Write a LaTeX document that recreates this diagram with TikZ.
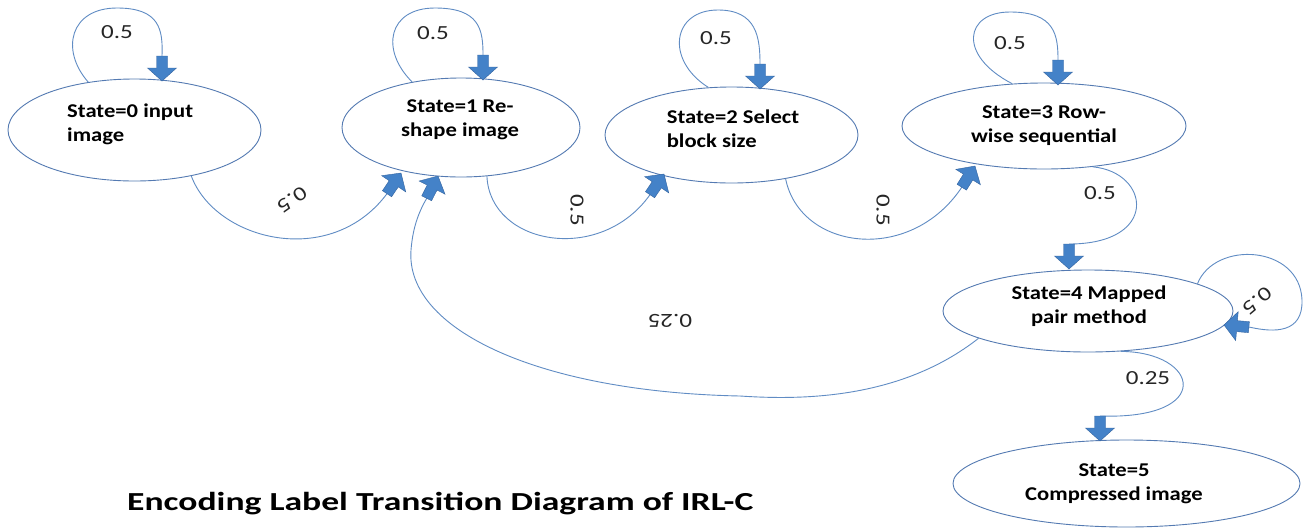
\documentclass[tikz,border=0pt]{standalone}
\usepackage{fontspec}
\setmainfont{Carlito}
\newfontfamily\nodefont[FakeStretch=1.16]{Carlito}
\newfontfamily\probfont[FakeStretch=1.25]{Carlito}
\newfontfamily\titlefont[FakeStretch=1.37]{Carlito}
\usetikzlibrary{shapes.geometric}
\definecolor{edgeblue}{RGB}{96,140,196}
\definecolor{nodeline}{RGB}{84,122,178}
\definecolor{arrowfill}{RGB}{68,130,200}
\definecolor{arrowline}{RGB}{52,100,160}
\tikzset{
  state/.style={ellipse, draw=nodeline, line width=0.9pt, inner sep=0pt},
  statetext/.style={font=\nodefont\fontsize{19.5}{24}\selectfont\bfseries, text=black, inner sep=0pt},
  link/.style={draw=edgeblue, line width=0.9pt},
  prob/.style={font=\probfont\fontsize{20}{22}\selectfont, text=black!85, inner sep=0pt},
  titletext/.style={font=\titlefont\fontsize{26}{30}\selectfont\bfseries, text=black, inner sep=0pt, anchor=base west},
  fatarrow/.pic={\filldraw[fill=arrowfill, draw=arrowline, line width=0.4pt] (0,0) -- (-13,14.5) -- (-13,5.5) -- (-25,5.5) -- (-25,-5.5) -- (-13,-5.5) -- (-13,-14.5) -- cycle;}
}
\begin{document}
\begin{tikzpicture}[x=1pt,y=-1pt]
\useasboundingbox (0,0) rectangle (1307,531);
\fill[white] (0,0) rectangle (1307,531);
% states
\node[state, minimum width=253pt, minimum height=102pt] (S0) at (134.5,130) {};
\node[state, minimum width=238pt, minimum height=99pt] (S1) at (461,127.5) {};
\node[state, minimum width=253pt, minimum height=96pt] (S2) at (731.5,135) {};
\node[state, minimum width=284pt, minimum height=86pt] (S3) at (1044,126) {};
\node[state, minimum width=290pt, minimum height=82pt] (S4) at (1088,311) {};
\node[state, minimum width=347pt, minimum height=87pt] (S5) at (1126.5,483.5) {};
\node[statetext, align=left, anchor=west] (S0t) at (67,124.5) {State=0 input\\image};
\node[statetext, align=center] (S1t) at (460,120) {State=1 Re-\\shape image};
\node[statetext, align=left] (S2t) at (733,129) {State=2 Select\\block size};
\node[statetext, align=center] (S3t) at (1044,126) {State=3 Row-\\wise sequential};
\node[statetext, align=center] (S4t) at (1089,306.5) {State=4 Mapped\\pair method};
\node[statetext, align=center] (S5t) at (1114,484) {State=5\\Compressed image};
% arrow tips and tails
\coordinate (a0tip) at (162,81);   \coordinate (a0tail) at (162,56);
\coordinate (a1tip) at (483,80);   \coordinate (a1tail) at (483,55);
\coordinate (a2tip) at (760,89);   \coordinate (a2tail) at (760,64);
\coordinate (a3tip) at (1058,85);  \coordinate (a3tail) at (1058,60);
\coordinate (b01tip) at (401,173); \coordinate (b01tail) at (387,193.7);
\coordinate (b12tip) at (664,174); \coordinate (b12tail) at (650,194.7);
\coordinate (b23tip) at (975,166); \coordinate (b23tail) at (961.8,187.2);
\coordinate (b34tip) at (1069,269); \coordinate (b34tail) at (1069,244);
\coordinate (d4tip) at (1224,325); \coordinate (d4tail) at (1249,327);
\coordinate (e41tip) at (438,176); \coordinate (e41tail) at (426.7,198.3);
\coordinate (f45tip) at (1100,441); \coordinate (f45tail) at (1100,416);
% self loops
\draw[link] (S0.134) .. controls (60,50) and (70,8) .. (117,8) .. controls (160,8) and (163,30) .. (a0tail);
\draw[link] (S1.137) .. controls (380,50) and (388,8) .. (435,8) .. controls (480,8) and (483,30) .. (a1tail);
\draw[link] (S2.116) .. controls (665,60) and (672,10) .. (718,10) .. controls (757,10) and (760,38) .. (a2tail);
\draw[link] (S3.127) .. controls (957,55) and (965,12) .. (1010,12) .. controls (1055,12) and (1058,35) .. (a3tail);
\draw[link] (S4.14) .. controls (1215,240) and (1300,245) .. (1302,300) .. controls (1303,333) and (1275,333) .. (d4tail);
% transitions
\draw[link] (S0.-39) .. controls (215,240) and (330,270) .. (b01tail);
\draw[link] (S1.-62) .. controls (490,245) and (600,265) .. (b12tail);
\draw[link] (S2.-39) .. controls (800,250) and (910,265) .. (b23tail);
\draw[link] (S3.-40) .. controls (1150,172) and (1160,244) .. (b34tail);
\draw[link] (S4.194) .. controls (900,400) and (800,400) .. (740,396) .. controls (540,392) and (405,330) .. (411,250) .. controls (413,225) and (420,210) .. (e41tail);
\draw[link] (S4.-51) .. controls (1200,352) and (1215,420) .. (f45tail);
% block arrowheads
\pic[rotate=-90] at (a0tip) {fatarrow};
\pic[rotate=-90] at (a1tip) {fatarrow};
\pic[rotate=-90] at (a2tip) {fatarrow};
\pic[rotate=-90] at (a3tip) {fatarrow};
\pic[rotate=56] at (b01tip) {fatarrow};
\pic[rotate=56] at (b12tip) {fatarrow};
\pic[rotate=58] at (b23tip) {fatarrow};
\pic[rotate=-90] at (b34tip) {fatarrow};
\pic[rotate=175] at (d4tip) {fatarrow};
\pic[rotate=63] at (e41tip) {fatarrow};
\pic[rotate=-90] at (f45tip) {fatarrow};
% probabilities
\node[prob] (p00) at (117,32) {0.5};
\node[prob] (p11) at (433,33) {0.5};
\node[prob] (p22) at (716,38) {0.5};
\node[prob] (p33) at (1010,43) {0.5};
\node[prob, rotate=215] (p01) at (292,200) {0.5};
\node[prob, rotate=-90] (p12) at (577,210) {0.5};
\node[prob, rotate=-90] (p23) at (883,210) {0.5};
\node[prob] (p34) at (1100,193) {0.5};
\node[prob, rotate=220] (p44) at (1257,301) {0.5};
\node[prob, rotate=180] (p41) at (670,321) {0.25};
\node[prob] (p45) at (1148,378) {0.25};
% title
\node[titletext] (title) at (127,510) {Encoding Label Transition Diagram of IRL-C};
\end{tikzpicture}
\end{document}
